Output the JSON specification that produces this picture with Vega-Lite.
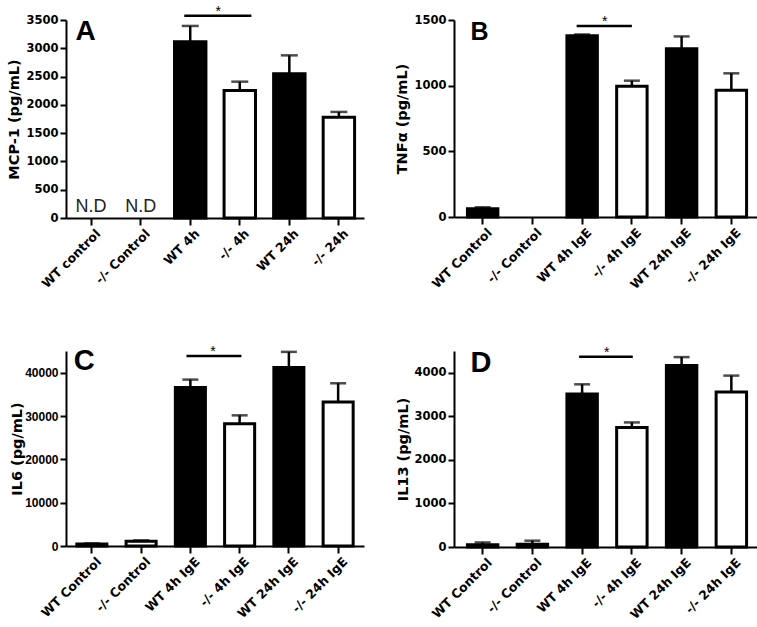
{
  "$schema": "https://vega.github.io/schema/vega-lite/v6.json",
  "background": "white",
  "padding": {"left": 6, "top": 4, "right": 2, "bottom": 2},
  "columns": 2,
  "spacing": {"row": 52, "column": 30},
  "config": {
    "view": {"stroke": null},
    "mark": {"color": "black"},
    "axis": {
      "grid": false,
      "domainColor": "black",
      "domainWidth": 2,
      "tickColor": "black",
      "tickWidth": 2,
      "labelColor": "black",
      "titleColor": "black",
      "labelFont": "DejaVu Sans",
      "labelFontWeight": "bold",
      "titleFont": "DejaVu Sans",
      "titleFontWeight": "bold",
      "titleFontSize": 14.5
    },
    "axisX": {"labelAngle": -45, "labelFontSize": 12.5, "tickSize": 7, "labelPadding": 2, "labelOffset": 3, "labelOverlap": false, "labelBound": false},
    "axisY": {"labelFontSize": 11.5, "tickSize": 6, "labelPadding": 2, "titlePadding": 4, "format": "d", "labelOverlap": false, "labelBound": false}
  },
  "datasets": {
    "cyto": [
      {"panel": "A", "cat": "WT 4h", "group": "WT", "value": 3115, "upper": 3395},
      {"panel": "A", "cat": "-/- 4h", "group": "KO", "value": 2255, "upper": 2410},
      {"panel": "A", "cat": "WT 24h", "group": "WT", "value": 2550, "upper": 2875},
      {"panel": "A", "cat": "-/- 24h", "group": "KO", "value": 1780, "upper": 1875},
      {"panel": "B", "cat": "WT Control", "group": "WT", "value": 62, "upper": 74},
      {"panel": "B", "cat": "WT 4h IgE", "group": "WT", "value": 1381, "upper": 1390},
      {"panel": "B", "cat": "-/- 4h IgE", "group": "KO", "value": 996, "upper": 1038},
      {"panel": "B", "cat": "WT 24h IgE", "group": "WT", "value": 1281, "upper": 1375},
      {"panel": "B", "cat": "-/- 24h IgE", "group": "KO", "value": 965, "upper": 1094},
      {"panel": "C", "cat": "WT Control", "group": "WT", "value": 450, "upper": 600},
      {"panel": "C", "cat": "-/- Control", "group": "KO", "value": 1100, "upper": 1300},
      {"panel": "C", "cat": "WT 4h IgE", "group": "WT", "value": 36550, "upper": 38400},
      {"panel": "C", "cat": "-/- 4h IgE", "group": "KO", "value": 28200, "upper": 30150},
      {"panel": "C", "cat": "WT 24h IgE", "group": "WT", "value": 41200, "upper": 44800},
      {"panel": "C", "cat": "-/- 24h IgE", "group": "KO", "value": 33230, "upper": 37550},
      {"panel": "D", "cat": "WT Control", "group": "WT", "value": 50, "upper": 105},
      {"panel": "D", "cat": "-/- Control", "group": "KO", "value": 65, "upper": 145},
      {"panel": "D", "cat": "WT 4h IgE", "group": "WT", "value": 3515, "upper": 3735},
      {"panel": "D", "cat": "-/- 4h IgE", "group": "KO", "value": 2745, "upper": 2860},
      {"panel": "D", "cat": "WT 24h IgE", "group": "WT", "value": 4165, "upper": 4360},
      {"panel": "D", "cat": "-/- 24h IgE", "group": "KO", "value": 3560, "upper": 3935}
    ],
    "sig": [
      {"panel": "A", "from": "WT 4h", "to": "-/- 4h", "y": 3577, "star": "*"},
      {"panel": "B", "from": "WT 4h IgE", "to": "-/- 4h IgE", "y": 1455, "star": "*"},
      {"panel": "C", "from": "WT 4h IgE", "to": "-/- 4h IgE", "y": 43870, "star": "*"},
      {"panel": "D", "from": "WT 4h IgE", "to": "-/- 4h IgE", "y": 4366, "star": "*"}
    ],
    "notes": [
      {"panel": "A", "cat": "WT control", "y": 0, "text": "N.D"},
      {"panel": "A", "cat": "-/- Control", "y": 0, "text": "N.D"}
    ],
    "letters": [
      {"panel": "A", "cat": "WT control", "y": 3500, "letter": "A"},
      {"panel": "B", "cat": "WT Control", "y": 1500, "letter": "B"},
      {"panel": "C", "cat": "WT Control", "y": 45000, "letter": "C"},
      {"panel": "D", "cat": "WT Control", "y": 4500, "letter": "D"}
    ]
  },
  "concat": [
    {
      "width": 298, "height": 198,
      "data": {"name": "cyto"},
      "transform": [{"filter": "datum.panel === 'A'"}],
      "encoding": {"x": {"field": "cat", "type": "nominal", "scale": {"domain": ["WT control", "-/- Control", "WT 4h", "-/- 4h", "WT 24h", "-/- 24h"], "paddingInner": 0.366, "paddingOuter": 0.19}, "axis": {"title": null}}},
      "layer": [
        {"mark": {"type": "rule", "strokeWidth": 2.5, "color": "black"},
         "encoding": {"y": {"field": "value", "type": "quantitative", "scale": {"domain": [0, 3500], "nice": false}, "axis": {"values": [0, 500, 1000, 1500, 2000, 2500, 3000, 3500], "title": "MCP-1 (pg/mL)"}}, "y2": {"field": "upper"}}},
        {"mark": {"type": "tick", "thickness": 2.5, "size": 17, "color": "black"},
         "encoding": {"y": {"field": "upper", "type": "quantitative", "scale": {"domain": [0, 3500], "nice": false}, "axis": {"values": [0, 500, 1000, 1500, 2000, 2500, 3000, 3500], "title": "MCP-1 (pg/mL)"}}}},
        {"mark": {"type": "bar", "stroke": "black", "strokeWidth": 3},
         "encoding": {"y": {"field": "value", "type": "quantitative", "scale": {"domain": [0, 3500], "nice": false}, "axis": {"values": [0, 500, 1000, 1500, 2000, 2500, 3000, 3500], "title": "MCP-1 (pg/mL)"}},
                      "fill": {"field": "group", "type": "nominal", "scale": {"domain": ["WT", "KO"], "range": ["black", "white"]}, "legend": null}}},
        {"data": {"name": "sig"}, "transform": [{"filter": "datum.panel === 'A'"}],
         "mark": {"type": "rule", "strokeWidth": 2.5, "color": "black"},
         "encoding": {"x": {"field": "from", "type": "nominal", "bandPosition": 0.31}, "x2": {"field": "to", "bandPosition": 0.87},
                      "y": {"field": "y", "type": "quantitative", "scale": {"domain": [0, 3500], "nice": false}, "axis": {"values": [0, 500, 1000, 1500, 2000, 2500, 3000, 3500], "title": "MCP-1 (pg/mL)"}}}},
        {"data": {"name": "sig"}, "transform": [{"filter": "datum.panel === 'A'"}],
         "mark": {"type": "text", "font": "Liberation Sans", "fontSize": 14, "baseline": "alphabetic", "align": "center", "color": "black"},
         "encoding": {"x": {"field": "from", "type": "nominal", "bandPosition": 1.39},
                      "y": {"field": "y", "type": "quantitative", "scale": {"domain": [0, 3500], "nice": false}, "axis": {"values": [0, 500, 1000, 1500, 2000, 2500, 3000, 3500], "title": "MCP-1 (pg/mL)"}}, "text": {"field": "star"}}},
        {"data": {"name": "notes"}, "transform": [{"filter": "datum.panel === 'A'"}],
         "mark": {"type": "text", "font": "Liberation Sans", "fontSize": 18, "baseline": "bottom", "align": "center", "color": "#222222", "dy": -2},
         "encoding": {"x": {"field": "cat", "type": "nominal"},
                      "y": {"field": "y", "type": "quantitative", "scale": {"domain": [0, 3500], "nice": false}, "axis": {"values": [0, 500, 1000, 1500, 2000, 2500, 3000, 3500], "title": "MCP-1 (pg/mL)"}}, "text": {"field": "text"}}},
        {"data": {"name": "letters"}, "transform": [{"filter": "datum.panel === 'A'"}],
         "mark": {"type": "text", "font": "Liberation Sans", "fontWeight": "bold", "fontSize": 28, "baseline": "top", "align": "left", "color": "black", "dy": -2},
         "encoding": {"x": {"field": "cat", "type": "nominal", "bandPosition": 0},
                      "y": {"field": "y", "type": "quantitative", "scale": {"domain": [0, 3500], "nice": false}, "axis": {"values": [0, 500, 1000, 1500, 2000, 2500, 3000, 3500], "title": "MCP-1 (pg/mL)"}}, "text": {"field": "letter"}}}
      ]
    },
    {
      "width": 306, "height": 197,
      "data": {"name": "cyto"},
      "transform": [{"filter": "datum.panel === 'B'"}],
      "encoding": {"x": {"field": "cat", "type": "nominal", "scale": {"domain": ["WT Control", "-/- Control", "WT 4h IgE", "-/- 4h IgE", "WT 24h IgE", "-/- 24h IgE"], "paddingInner": 0.388, "paddingOuter": 0.27}, "axis": {"title": null}}},
      "layer": [
        {"mark": {"type": "rule", "strokeWidth": 2.5, "color": "black"},
         "encoding": {"y": {"field": "value", "type": "quantitative", "scale": {"domain": [0, 1500], "nice": false}, "axis": {"values": [0, 500, 1000, 1500], "title": "TNFα (pg/mL)"}}, "y2": {"field": "upper"}}},
        {"mark": {"type": "tick", "thickness": 2.5, "size": 16, "color": "black"},
         "encoding": {"y": {"field": "upper", "type": "quantitative", "scale": {"domain": [0, 1500], "nice": false}, "axis": {"values": [0, 500, 1000, 1500], "title": "TNFα (pg/mL)"}}}},
        {"mark": {"type": "bar", "stroke": "black", "strokeWidth": 3},
         "encoding": {"y": {"field": "value", "type": "quantitative", "scale": {"domain": [0, 1500], "nice": false}, "axis": {"values": [0, 500, 1000, 1500], "title": "TNFα (pg/mL)"}},
                      "fill": {"field": "group", "type": "nominal", "scale": {"domain": ["WT", "KO"], "range": ["black", "white"]}, "legend": null}}},
        {"data": {"name": "sig"}, "transform": [{"filter": "datum.panel === 'B'"}],
         "mark": {"type": "rule", "strokeWidth": 2.5, "color": "black"},
         "encoding": {"x": {"field": "from", "type": "nominal", "bandPosition": 0.32}, "x2": {"field": "to", "bandPosition": 0.5},
                      "y": {"field": "y", "type": "quantitative", "scale": {"domain": [0, 1500], "nice": false}, "axis": {"values": [0, 500, 1000, 1500], "title": "TNFα (pg/mL)"}}}},
        {"data": {"name": "sig"}, "transform": [{"filter": "datum.panel === 'B'"}],
         "mark": {"type": "text", "font": "Liberation Sans", "fontSize": 14, "baseline": "alphabetic", "align": "center", "color": "black"},
         "encoding": {"x": {"field": "from", "type": "nominal", "bandPosition": 1.24},
                      "y": {"field": "y", "type": "quantitative", "scale": {"domain": [0, 1500], "nice": false}, "axis": {"values": [0, 500, 1000, 1500], "title": "TNFα (pg/mL)"}}, "text": {"field": "star"}}},
        {"data": {"name": "letters"}, "transform": [{"filter": "datum.panel === 'B'"}],
         "mark": {"type": "text", "font": "Liberation Sans", "fontWeight": "bold", "fontSize": 25, "baseline": "top", "align": "left", "color": "black"},
         "encoding": {"x": {"field": "cat", "type": "nominal", "bandPosition": 0.1},
                      "y": {"field": "y", "type": "quantitative", "scale": {"domain": [0, 1500], "nice": false}, "axis": {"values": [0, 500, 1000, 1500], "title": "TNFα (pg/mL)"}}, "text": {"field": "letter"}}}
      ]
    },
    {
      "width": 298, "height": 195,
      "data": {"name": "cyto"},
      "transform": [{"filter": "datum.panel === 'C'"}],
      "encoding": {"x": {"field": "cat", "type": "nominal", "scale": {"domain": ["WT Control", "-/- Control", "WT 4h IgE", "-/- 4h IgE", "WT 24h IgE", "-/- 24h IgE"], "paddingInner": 0.39, "paddingOuter": 0.22}, "axis": {"title": null}}},
      "layer": [
        {"mark": {"type": "rule", "strokeWidth": 2.5, "color": "black"},
         "encoding": {"y": {"field": "value", "type": "quantitative", "scale": {"domain": [0, 45000], "nice": false}, "axis": {"values": [0, 10000, 20000, 30000, 40000], "title": "IL6 (pg/mL)", "labelFont": "Liberation Sans", "labelFontSize": 12, "titlePadding": 0}}, "y2": {"field": "upper"}}},
        {"mark": {"type": "tick", "thickness": 2.5, "size": 16, "color": "black"},
         "encoding": {"y": {"field": "upper", "type": "quantitative", "scale": {"domain": [0, 45000], "nice": false}, "axis": {"values": [0, 10000, 20000, 30000, 40000], "title": "IL6 (pg/mL)", "labelFont": "Liberation Sans", "labelFontSize": 12, "titlePadding": 0}}}},
        {"mark": {"type": "bar", "stroke": "black", "strokeWidth": 3},
         "encoding": {"y": {"field": "value", "type": "quantitative", "scale": {"domain": [0, 45000], "nice": false}, "axis": {"values": [0, 10000, 20000, 30000, 40000], "title": "IL6 (pg/mL)", "labelFont": "Liberation Sans", "labelFontSize": 12, "titlePadding": 0}},
                      "fill": {"field": "group", "type": "nominal", "scale": {"domain": ["WT", "KO"], "range": ["black", "white"]}, "legend": null}}},
        {"data": {"name": "sig"}, "transform": [{"filter": "datum.panel === 'C'"}],
         "mark": {"type": "rule", "strokeWidth": 2.5, "color": "black"},
         "encoding": {"x": {"field": "from", "type": "nominal", "bandPosition": 0.37}, "x2": {"field": "to", "bandPosition": 0.56},
                      "y": {"field": "y", "type": "quantitative", "scale": {"domain": [0, 45000], "nice": false}, "axis": {"values": [0, 10000, 20000, 30000, 40000], "title": "IL6 (pg/mL)", "labelFont": "Liberation Sans", "labelFontSize": 12, "titlePadding": 0}}}},
        {"data": {"name": "sig"}, "transform": [{"filter": "datum.panel === 'C'"}],
         "mark": {"type": "text", "font": "Liberation Sans", "fontSize": 14, "baseline": "alphabetic", "align": "center", "color": "black"},
         "encoding": {"x": {"field": "from", "type": "nominal", "bandPosition": 1.25},
                      "y": {"field": "y", "type": "quantitative", "scale": {"domain": [0, 45000], "nice": false}, "axis": {"values": [0, 10000, 20000, 30000, 40000], "title": "IL6 (pg/mL)", "labelFont": "Liberation Sans", "labelFontSize": 12, "titlePadding": 0}}, "text": {"field": "star"}}},
        {"data": {"name": "letters"}, "transform": [{"filter": "datum.panel === 'C'"}],
         "mark": {"type": "text", "font": "Liberation Sans", "fontWeight": "bold", "fontSize": 29, "baseline": "top", "align": "left", "color": "black", "dy": -4},
         "encoding": {"x": {"field": "cat", "type": "nominal", "bandPosition": -0.1},
                      "y": {"field": "y", "type": "quantitative", "scale": {"domain": [0, 45000], "nice": false}, "axis": {"values": [0, 10000, 20000, 30000, 40000], "title": "IL6 (pg/mL)", "labelFont": "Liberation Sans", "labelFontSize": 12, "titlePadding": 0}}, "text": {"field": "letter"}}}
      ]
    },
    {
      "width": 306, "height": 196,
      "data": {"name": "cyto"},
      "transform": [{"filter": "datum.panel === 'D'"}],
      "encoding": {"x": {"field": "cat", "type": "nominal", "scale": {"domain": ["WT Control", "-/- Control", "WT 4h IgE", "-/- 4h IgE", "WT 24h IgE", "-/- 24h IgE"], "paddingInner": 0.388, "paddingOuter": 0.27}, "axis": {"title": null}}},
      "layer": [
        {"mark": {"type": "rule", "strokeWidth": 2.5, "color": "black"},
         "encoding": {"y": {"field": "value", "type": "quantitative", "scale": {"domain": [0, 4500], "nice": false}, "axis": {"values": [0, 1000, 2000, 3000, 4000], "title": "IL13 (pg/mL)", "titlePadding": 3}}, "y2": {"field": "upper"}}},
        {"mark": {"type": "tick", "thickness": 2.5, "size": 16, "color": "black"},
         "encoding": {"y": {"field": "upper", "type": "quantitative", "scale": {"domain": [0, 4500], "nice": false}, "axis": {"values": [0, 1000, 2000, 3000, 4000], "title": "IL13 (pg/mL)", "titlePadding": 3}}}},
        {"mark": {"type": "bar", "stroke": "black", "strokeWidth": 3},
         "encoding": {"y": {"field": "value", "type": "quantitative", "scale": {"domain": [0, 4500], "nice": false}, "axis": {"values": [0, 1000, 2000, 3000, 4000], "title": "IL13 (pg/mL)", "titlePadding": 3}},
                      "fill": {"field": "group", "type": "nominal", "scale": {"domain": ["WT", "KO"], "range": ["black", "white"]}, "legend": null}}},
        {"data": {"name": "sig"}, "transform": [{"filter": "datum.panel === 'D'"}],
         "mark": {"type": "rule", "strokeWidth": 2.5, "color": "black"},
         "encoding": {"x": {"field": "from", "type": "nominal", "bandPosition": 0.4}, "x2": {"field": "to", "bandPosition": 0.53},
                      "y": {"field": "y", "type": "quantitative", "scale": {"domain": [0, 4500], "nice": false}, "axis": {"values": [0, 1000, 2000, 3000, 4000], "title": "IL13 (pg/mL)", "titlePadding": 3}}}},
        {"data": {"name": "sig"}, "transform": [{"filter": "datum.panel === 'D'"}],
         "mark": {"type": "text", "font": "Liberation Sans", "fontSize": 14, "baseline": "alphabetic", "align": "center", "color": "black"},
         "encoding": {"x": {"field": "from", "type": "nominal", "bandPosition": 1.31},
                      "y": {"field": "y", "type": "quantitative", "scale": {"domain": [0, 4500], "nice": false}, "axis": {"values": [0, 1000, 2000, 3000, 4000], "title": "IL13 (pg/mL)", "titlePadding": 3}}, "text": {"field": "star"}}},
        {"data": {"name": "letters"}, "transform": [{"filter": "datum.panel === 'D'"}],
         "mark": {"type": "text", "font": "Liberation Sans", "fontWeight": "bold", "fontSize": 29, "baseline": "top", "align": "left", "color": "black", "dy": -2},
         "encoding": {"x": {"field": "cat", "type": "nominal", "bandPosition": 0.1},
                      "y": {"field": "y", "type": "quantitative", "scale": {"domain": [0, 4500], "nice": false}, "axis": {"values": [0, 1000, 2000, 3000, 4000], "title": "IL13 (pg/mL)", "titlePadding": 3}}, "text": {"field": "letter"}}}
      ]
    }
  ]
}
